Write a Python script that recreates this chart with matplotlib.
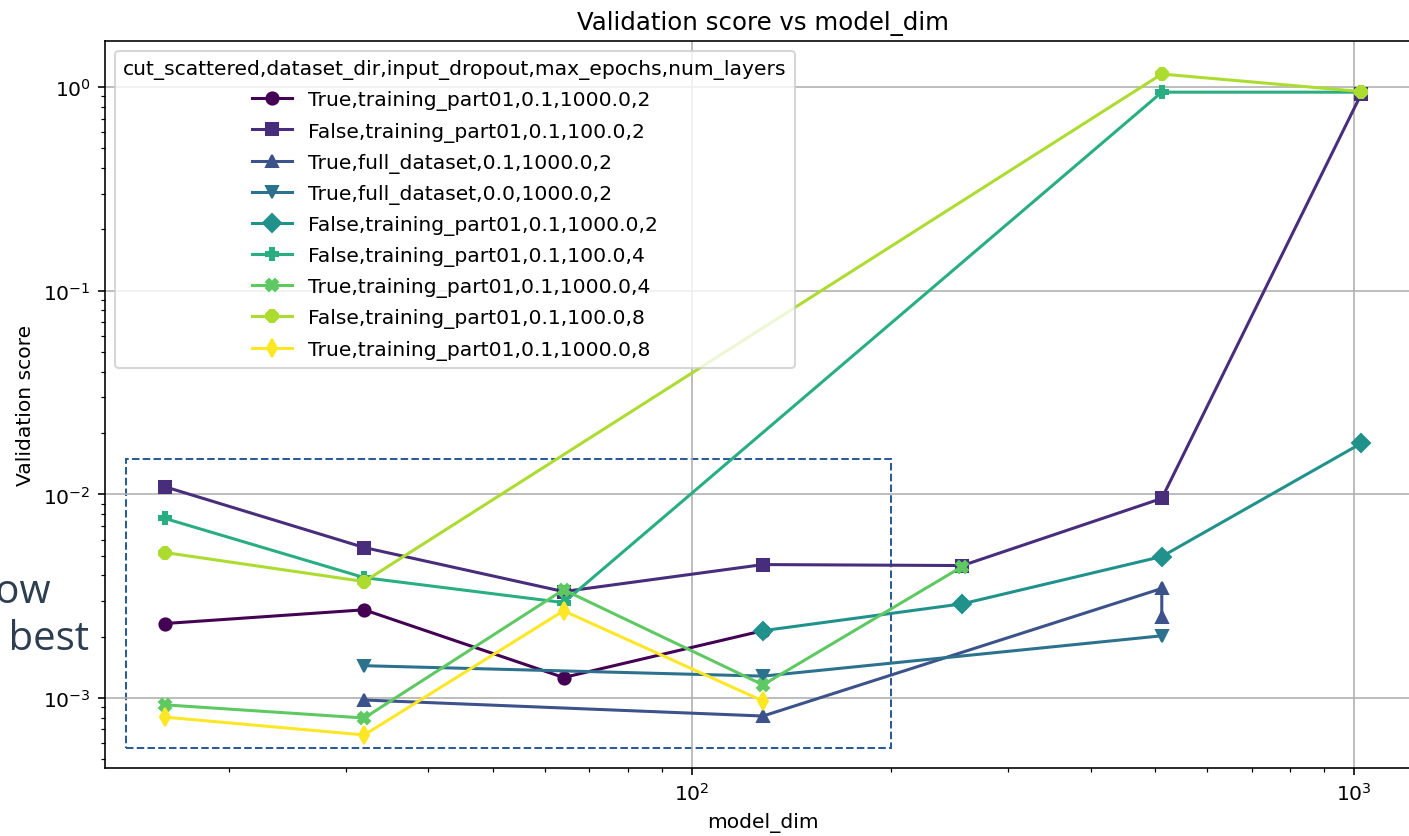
import numpy as np
import matplotlib
matplotlib.use("Agg")
import matplotlib.pyplot as plt
from matplotlib.patches import Rectangle

# Run groups: cut_scattered, dataset_dir, input_dropout, max_epochs, num_layers
legend_title = "cut_scattered,dataset_dir,input_dropout,max_epochs,num_layers"
run_labels = [
    "True,training_part01,0.1,1000.0,2",
    "False,training_part01,0.1,100.0,2",
    "True,full_dataset,0.1,1000.0,2",
    "True,full_dataset,0.0,1000.0,2",
    "False,training_part01,0.1,1000.0,2",
    "False,training_part01,0.1,100.0,4",
    "True,training_part01,0.1,1000.0,4",
    "False,training_part01,0.1,100.0,8",
    "True,training_part01,0.1,1000.0,8",
]

dims_a = [16, 32, 64, 128]
score_a = [2.32e-3, 2.71e-3, 1.26e-3, 2.14e-3]

dims_b = [16, 32, 64, 128, 256, 512, 1024]
score_b = [1.09e-2, 5.48e-3, 3.33e-3, 4.52e-3, 4.47e-3, 9.55e-3, 0.924]

dims_c = [32, 128, 512, 512]
score_c = [9.77e-4, 8.15e-4, 3.45e-3, 2.50e-3]

dims_d = [32, 128, 512]
score_d = [1.44e-3, 1.28e-3, 2.02e-3]

dims_e = [128, 256, 512, 1024]
score_e = [2.14e-3, 2.90e-3, 4.95e-3, 1.78e-2]

dims_f = [16, 32, 64, 512, 1024]
score_f = [7.62e-3, 3.90e-3, 2.94e-3, 0.945, 0.945]

dims_g = [16, 32, 64, 128, 256]
score_g = [9.25e-4, 7.97e-4, 3.40e-3, 1.16e-3, 4.42e-3]

dims_h = [16, 32, 512, 1024]
score_h = [5.18e-3, 3.73e-3, 1.16, 0.952]

dims_i = [16, 32, 64, 128]
score_i = [8.05e-4, 6.58e-4, 2.68e-3, 9.66e-4]

all_dims = [dims_a, dims_b, dims_c, dims_d, dims_e, dims_f, dims_g, dims_h, dims_i]
all_scores = [score_a, score_b, score_c, score_d, score_e, score_f, score_g, score_h, score_i]
markers = ["o", "s", "^", "v", "D", "P", "X", "8", "d"]

# highlighted region of small, well-performing models
region_dims = (14, 200)
region_scores = (5.7e-4, 1.5e-2)

DPI = 146
W, H = 1409, 837
fig = plt.figure(figsize=(W / DPI, H / DPI), dpi=DPI)
ax = fig.add_axes([105 / W, 68 / H, 1316 / W, 727 / H])

colors = plt.cm.viridis(np.linspace(0, 1, len(run_labels)))
for dims, scores, lab, mk, col in zip(all_dims, all_scores, run_labels, markers, colors):
    ax.plot(dims, scores, marker=mk, color=col, label=lab, linewidth=1.5, markersize=6)

ax.set_xscale("log")
ax.set_yscale("log")
ax.grid(True)
ax.set_title("Validation score vs model_dim", fontsize=12)
ax.set_xlabel("model_dim", fontsize=10)
ax.set_ylabel("Validation score", fontsize=10)

ax.add_patch(Rectangle((region_dims[0], region_scores[0]),
                       region_dims[1] - region_dims[0],
                       region_scores[1] - region_scores[0],
                       fill=False, edgecolor="#2b5c99", linestyle="--",
                       linewidth=1.0, zorder=1))

ax.legend(title=legend_title, loc="upper left", fontsize=10, title_fontsize=10,
          labelspacing=0.55)

fig.text(51 / W, 1 - 603 / H, "Below", ha="right", va="baseline",
         fontsize=19.8, family="Open Sans", color="#2c3e50")
fig.text(89 / W, 1 - 650 / H, "is best", ha="right", va="baseline",
         fontsize=19.8, family="Open Sans", color="#2c3e50")

fig.savefig("out.png", dpi=DPI)
